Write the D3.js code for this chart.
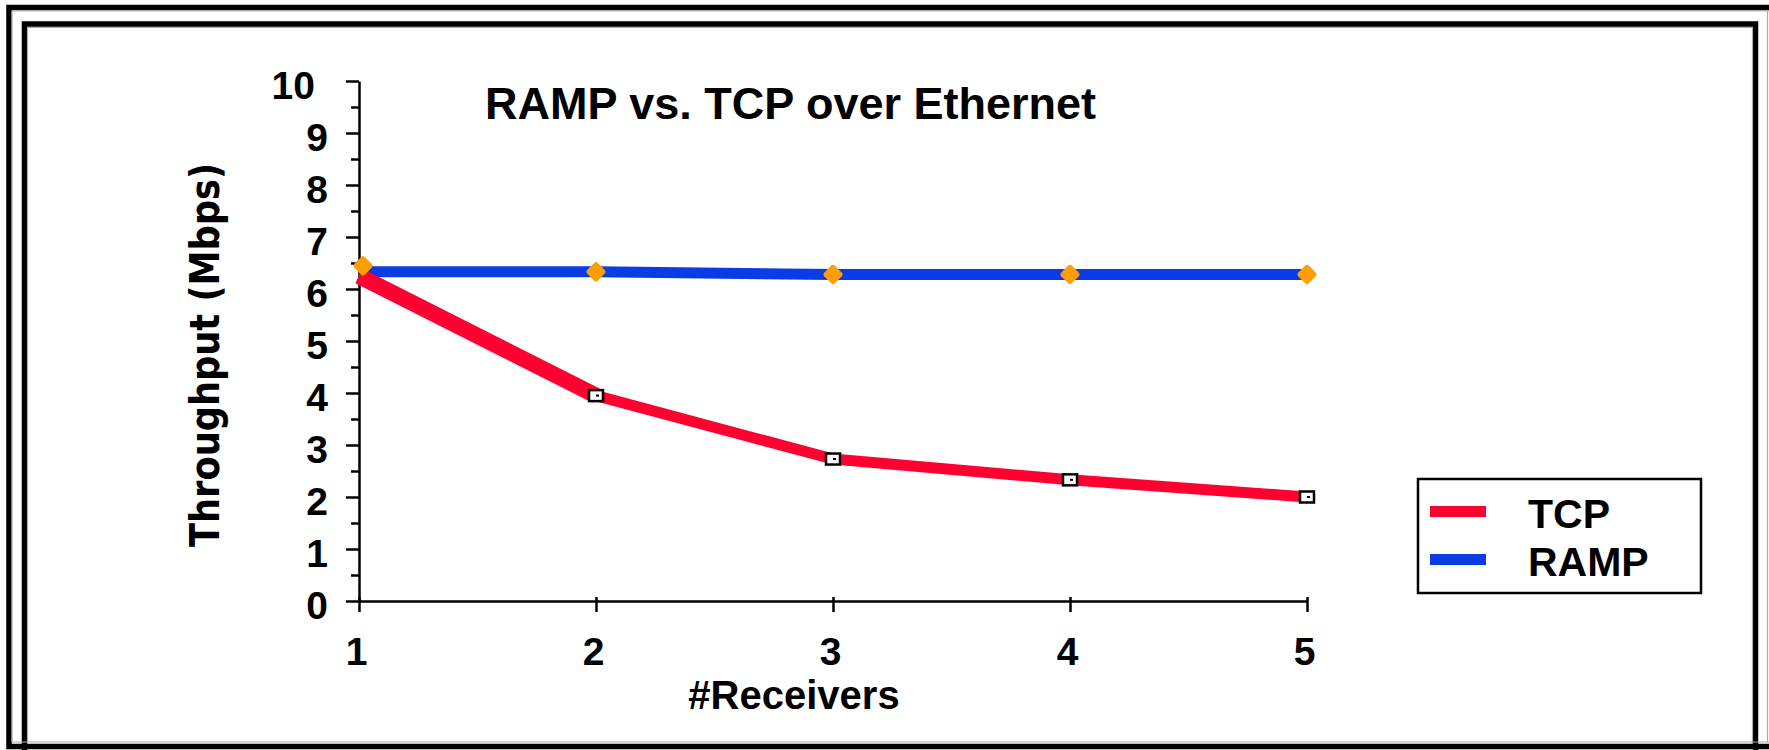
<!DOCTYPE html>
<html lang="en">
<head>
    <meta charset="UTF-8">
    <script src="https://cdnjs.cloudflare.com/ajax/libs/d3/7.8.5/d3.min.js"></script>
    <style>
        body { margin: 0; background: #fff; }
        svg { display: block; }
        .tick text { font-family: "Liberation Sans", Arial, sans-serif; font-weight: bold; font-size: 39px; fill: #000; }
    </style>
</head>
<body>
    <svg id="chart" width="1769" height="750"></svg>
    <script>
        // data
        let receivers = [1, 2, 3, 4, 5];
        let tcpValues = [6.25, 3.95, 2.73, 2.33, 2.0];
        let rampValues = [6.33, 6.33, 6.28, 6.28, 6.28];
        let yMajorTicks = [0, 1, 2, 3, 4, 5, 6, 7, 8, 9, 10];
        let yMinorTicks = [0.5, 1.5, 2.5, 3.5, 4.5, 5.5, 6.5, 7.5, 8.5, 9.5];
        let seriesNames = ["TCP", "RAMP"];
        let seriesColors = ["#ff0030", "#0a3ce6"];

        let svg = d3.select("#chart");

        // slide frames
        svg.append("rect").attr("x", 9).attr("y", 7.5).attr("width", 1780).attr("height", 739)
            .attr("fill", "none").attr("stroke", "#000").attr("stroke-width", 5.5);
        svg.append("rect").attr("x", 24.5).attr("y", 24).attr("width", 1731).attr("height", 760)
            .attr("fill", "none").attr("stroke", "#000").attr("stroke-width", 5.5);
        let grayLines = [[12, 11, 1769, 11], [12, 11, 12, 742], [12, 742, 1769, 742],
                         [27.5, 27.5, 1752.5, 27.5], [27.5, 27.5, 27.5, 742], [1752.5, 27.5, 1752.5, 742],
                         [1767.5, 11, 1767.5, 742]];
        svg.selectAll(".gray").data(grayLines).enter().append("line")
            .attr("x1", d => d[0]).attr("y1", d => d[1]).attr("x2", d => d[2]).attr("y2", d => d[3])
            .attr("stroke", "#aaa").attr("stroke-width", 1.2);

        let xScale = d3.scaleLinear().domain([1, 5]).range([359, 1307]);
        let yScale = d3.scaleLinear().domain([0, 10]).range([601, 81]);

        // y axis minor ticks
        let yMinor = d3.axisLeft(yScale).tickValues(yMinorTicks).tickSize(8).tickFormat("");
        svg.append("g").attr("transform", "translate(359,0)").call(yMinor)
            .call(g => g.select(".domain").remove())
            .selectAll("line").attr("stroke-width", 2.5);

        // y axis major ticks
        let yAxis = d3.axisLeft(yScale).tickValues(yMajorTicks).tickSize(13).tickSizeOuter(0).tickFormat(d3.format("d"));
        let yG = svg.append("g").attr("transform", "translate(359,0)").call(yAxis);
        yG.select(".domain").attr("stroke-width", 2.5);
        yG.selectAll("line").attr("stroke-width", 2.5);
        yG.selectAll("text").attr("dy", "17px").attr("x", d => d === 10 ? -44 : -31);

        // x axis
        let xAxis = d3.axisBottom(xScale).tickValues(receivers).tickSize(11).tickSizeOuter(0)
            .tickPadding(25).tickFormat(d3.format("d"));
        let xG = svg.append("g").attr("transform", "translate(0,601)").call(xAxis);
        xG.select(".domain").attr("stroke-width", 2.5);
        xG.selectAll("line").attr("y1", -4).attr("stroke-width", 2.5);
        xG.selectAll("text").attr("dy", "0.71em").attr("x", -3);

        // lines
        let line = d3.line().x((d, i) => xScale(receivers[i])).y(d => yScale(d));
        svg.append("path").datum(rampValues).attr("d", line)
            .attr("fill", "none").attr("stroke", seriesColors[1]).attr("stroke-width", 11);
        svg.append("path").datum(tcpValues).attr("d", line)
            .attr("fill", "none").attr("stroke", seriesColors[0]).attr("stroke-width", 11)
            .attr("stroke-linejoin", "round");
        // first TCP segment is drawn heavier in the original
        svg.append("path").datum(tcpValues.slice(0, 2)).attr("d", line)
            .attr("fill", "none").attr("stroke", seriesColors[0]).attr("stroke-width", 16);

        // TCP markers: small open squares
        let tcpM = svg.selectAll(".tcpm").data(tcpValues).enter().append("g")
            .attr("transform", (d, i) => `translate(${xScale(receivers[i])},${yScale(d)})`);
        tcpM.filter((d, i) => i > 0).append("rect")
            .attr("x", -7).attr("y", -5.5).attr("width", 14).attr("height", 11)
            .attr("fill", "#fff").attr("stroke", "#000").attr("stroke-width", 2.5);
        tcpM.filter((d, i) => i > 0).append("line")
            .attr("x1", 0).attr("x2", 3).attr("y1", 0).attr("y2", 0)
            .attr("stroke", "#000").attr("stroke-width", 2);

        // RAMP markers: orange diamonds
        svg.selectAll(".rampm").data(rampValues).enter().append("rect")
            .attr("x", -7.5).attr("y", -7.5).attr("width", 15).attr("height", 15).attr("rx", 2.5)
            .attr("fill", "#ff9e00")
            .attr("transform", (d, i) => `translate(${xScale(receivers[i]) + (i === 0 ? 4 : 0)},${yScale(d) - (i === 0 ? 6 : 0)}) rotate(45)`);

        // titles
        svg.append("text").attr("x", 485).attr("y", 119)
            .attr("font-family", "Liberation Sans, Arial, sans-serif").attr("font-weight", "bold")
            .attr("font-size", 45).text("RAMP vs. TCP over Ethernet");
        svg.append("text").attr("x", 794).attr("y", 709).attr("text-anchor", "middle")
            .attr("font-family", "Liberation Sans, Arial, sans-serif").attr("font-weight", "bold")
            .attr("font-size", 40).text("#Receivers");
        svg.append("text").attr("transform", "translate(219,355) rotate(-90)").attr("text-anchor", "middle")
            .attr("font-family", "DejaVu Sans, sans-serif").attr("font-weight", "bold").attr("font-size", 40)
            .attr("textLength", 384).attr("lengthAdjust", "spacingAndGlyphs")
            .text("Throughput (Mbps)");

        // legend
        let legend = svg.append("g");
        legend.append("rect").attr("x", 1418).attr("y", 479).attr("width", 283).attr("height", 114)
            .attr("fill", "#fff").attr("stroke", "#000").attr("stroke-width", 2.5);
        let items = legend.selectAll(".item").data(seriesNames).enter().append("g")
            .attr("transform", (d, i) => `translate(0,${i * 48})`);
        items.append("rect").attr("x", 1430).attr("y", 506).attr("width", 56).attr("height", 11)
            .attr("fill", (d, i) => seriesColors[i]);
        items.append("text").attr("x", 1528).attr("y", 528)
            .attr("font-family", "Liberation Sans, Arial, sans-serif").attr("font-weight", "bold")
            .attr("font-size", 41).text(d => d);
    </script>
</body>
</html>
